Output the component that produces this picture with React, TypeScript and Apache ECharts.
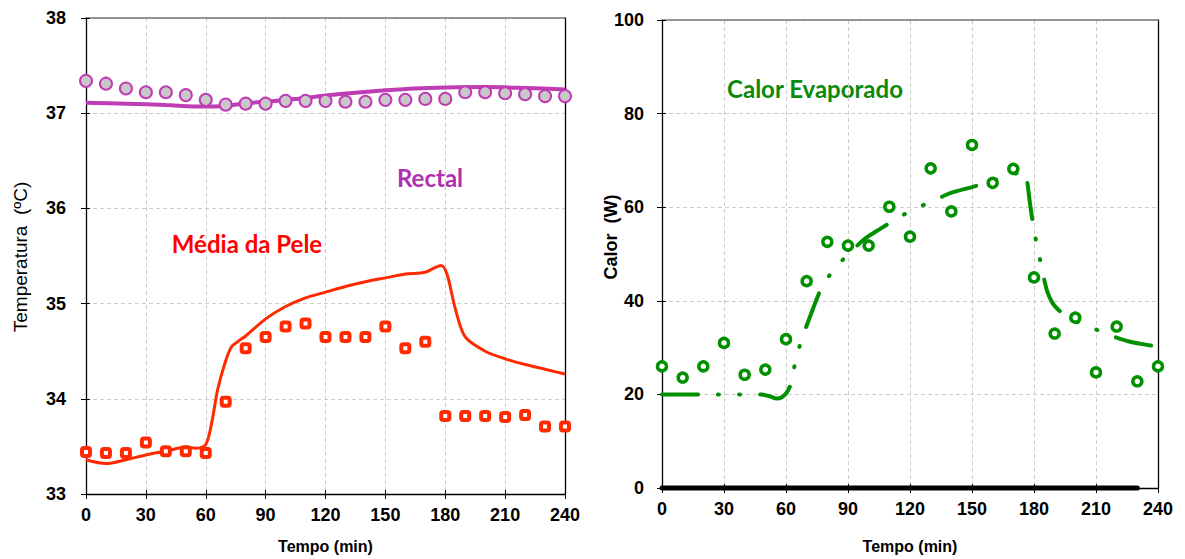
import React, { useEffect, useRef } from "react";
import * as echarts from "echarts";

// ---------- data ----------
const timeObs = [0, 10, 20, 30, 40, 50, 60, 70, 80, 90, 100, 110, 120, 130, 140, 150, 160, 170, 180, 190, 200, 210, 220, 230, 240];

const rectalObs = [37.34, 37.31, 37.26, 37.22, 37.22, 37.19, 37.14, 37.09, 37.10, 37.10, 37.13, 37.13, 37.13, 37.12, 37.12, 37.14, 37.14, 37.15, 37.15, 37.22, 37.22, 37.21, 37.20, 37.18, 37.18];
const skinObs = [33.44, 33.43, 33.43, 33.54, 33.45, 33.45, 33.43, 33.97, 34.53, 34.65, 34.76, 34.79, 34.65, 34.65, 34.65, 34.76, 34.53, 34.60, 33.82, 33.82, 33.82, 33.81, 33.83, 33.71, 33.71];

const rectalModelT = [0, 20, 40, 60, 70, 80, 90, 100, 110, 120, 135, 150, 165, 180, 200, 220, 240];
const rectalModelV = [37.11, 37.10, 37.085, 37.07, 37.075, 37.105, 37.12, 37.14, 37.16, 37.185, 37.215, 37.24, 37.26, 37.27, 37.275, 37.265, 37.25];

const skinModelT = [0, 10, 20, 30, 40, 50, 55, 60, 63, 66, 70, 73, 76, 80, 90, 100, 110, 120, 130, 140, 150, 160, 170, 175, 178, 181, 185, 190, 200, 210, 220, 230, 240];
const skinModelV = [33.36, 33.32, 33.36, 33.41, 33.45, 33.49, 33.48, 33.52, 33.75, 34.1, 34.4, 34.55, 34.6, 34.66, 34.84, 34.97, 35.06, 35.12, 35.18, 35.23, 35.27, 35.31, 35.33, 35.38, 35.4, 35.3, 34.95, 34.65, 34.5, 34.42, 34.36, 34.31, 34.26];

const evapObs = [26, 23.6, 26, 31, 24.2, 25.3, 31.8, 44.2, 52.6, 51.8, 51.8, 60.1, 53.7, 68.3, 59.1, 73.3, 65.2, 68.2, 45.0, 33.0, 36.4, 24.7, 34.5, 22.8, 26];

const evapModelT = [0, 20, 40, 48, 52, 55.5, 58, 60.5, 62.8, 64.5, 67.3, 71.6, 77.3, 83.2, 90, 98, 105, 113, 121.6, 131, 139.5, 150, 157.7, 167, 172, 175, 176.5, 178, 180, 182, 184, 186.4, 189, 192, 196.6, 201, 207.7, 217, 226, 237, 240];
const evapModelV = [20, 20, 20, 20, 19.6, 19.1, 19.4, 20.5, 22.7, 27, 31.3, 36.6, 42.9, 46.7, 49.9, 53.2, 55.2, 57.4, 59.5, 61.3, 63, 64.3, 65.3, 66.7, 67.3, 67.6, 66, 61, 55, 50.9, 46.4, 42, 39.5, 38, 36.5, 35.5, 34.3, 32.6, 31.3, 30.4, 30.1];

const zeroLineT = [0, 230];
const zeroLineV = [0, 0];

const pairs = (t: number[], v: number[]) => t.map((x, i) => [x, v[i]]);

export default function App() {
  const ref = useRef<HTMLDivElement>(null);
  useEffect(() => {
    const chart = echarts.init(ref.current!, null, { renderer: "svg" });
    const tickFont = { fontFamily: "Liberation Sans, Arial, sans-serif", fontWeight: "bold" as const, fontSize: 18, color: "#000" };
    const split = { show: true, lineStyle: { color: "#cccccc", type: [4, 3] as any, width: 1 } };

    const mkX = (grid: number) => [
      {
        type: "value", gridIndex: grid, min: 0, max: 240, interval: 30, position: "bottom",
        axisLine: { show: true, onZero: false, lineStyle: { color: "#000", width: 1.3 } },
        axisTick: { show: true, inside: false, length: 5, lineStyle: { color: "#000" } },
        axisLabel: { ...tickFont, margin: 12 },
        splitLine: split,
        name: "Tempo (min)", nameLocation: "middle", nameGap: grid === 0 ? 44 : 50,
        nameTextStyle: { fontFamily: "Liberation Sans, Arial, sans-serif", fontWeight: "bold", fontSize: 16, color: "#000" },
      },
      {
        type: "value", gridIndex: grid, min: 0, max: 240, interval: 30, position: "bottom",
        axisLine: { show: false, onZero: false },
        axisTick: { show: true, inside: true, length: 4, lineStyle: { color: "#000" } },
        axisLabel: { show: false }, splitLine: { show: false },
      },
      {
        type: "value", gridIndex: grid, min: 0, max: 240, interval: 30, position: "top",
        axisLine: { show: true, onZero: false, lineStyle: { color: "#777", width: 1.5 } },
        axisTick: { show: false }, axisLabel: { show: false }, splitLine: { show: false },
      },
    ];
    const mkY = (grid: number, min: number, max: number, interval: number, margin: number) => [
      {
        type: "value", gridIndex: grid, min, max, interval, position: "left",
        axisLine: { show: true, onZero: false, lineStyle: { color: "#000", width: 1.3 } },
        axisTick: { show: true, inside: false, length: 5, lineStyle: { color: "#000" } },
        axisLabel: { ...tickFont, margin },
        splitLine: split,
      },
      {
        type: "value", gridIndex: grid, min, max, interval, position: "left",
        axisLine: { show: false, onZero: false },
        axisTick: { show: true, inside: true, length: 4, lineStyle: { color: "#000" } },
        axisLabel: { show: false }, splitLine: { show: false },
      },
      {
        type: "value", gridIndex: grid, min, max, interval, position: "right",
        axisLine: { show: true, onZero: false, lineStyle: { color: "#000", width: 1.3 } },
        axisTick: { show: false }, axisLabel: { show: false }, splitLine: { show: false },
      },
    ];

    const option: any = {
      animation: false,
      backgroundColor: "#fff",
      grid: [
        { left: 86, top: 18, width: 479, height: 478 },
        { left: 662, top: 20, width: 496, height: 470 },
      ],
      xAxis: [...mkX(0), ...mkX(1)],
      yAxis: [...mkY(0, 33, 38, 1, 20), ...mkY(1, 0, 100, 20, 18)],
      series: [
        {
          type: "line", xAxisIndex: 0, yAxisIndex: 0, data: pairs(rectalModelT, rectalModelV),
          smooth: 0.3, showSymbol: false, lineStyle: { color: "#c03cb4", width: 4 }, z: 2,
        },
        {
          type: "line", xAxisIndex: 0, yAxisIndex: 0, data: pairs(skinModelT, skinModelV),
          smooth: 0.3, showSymbol: false, lineStyle: { color: "#ff2a00", width: 3 }, z: 2,
        },
        {
          type: "scatter", xAxisIndex: 0, yAxisIndex: 0, data: pairs(timeObs, rectalObs), clip: false,
          symbol: "circle", symbolSize: 12,
          itemStyle: { color: "#c8c8c8", borderColor: "#c03cb4", borderWidth: 2, opacity: 1 }, z: 3,
        },
        {
          type: "scatter", xAxisIndex: 0, yAxisIndex: 0, data: pairs(timeObs, skinObs), clip: false,
          symbol: "roundRect", symbolSize: 8,
          itemStyle: { color: "#fff", borderColor: "#ff2a00", borderWidth: 4, opacity: 1 }, z: 3,
        },
        {
          type: "line", xAxisIndex: 3, yAxisIndex: 3, data: pairs(zeroLineT, zeroLineV), clip: false,
          showSymbol: false, lineStyle: { color: "#000", width: 5, cap: "round" }, z: 4,
        },
        {
          type: "line", xAxisIndex: 3, yAxisIndex: 3, data: pairs(evapModelT, evapModelV),
          smooth: 0.25, showSymbol: false,
          lineStyle: { color: "#009000", width: 4, type: [36, 20, 1, 20, 1, 20], cap: "round" }, z: 2,
        },
        {
          type: "scatter", xAxisIndex: 3, yAxisIndex: 3, data: pairs(timeObs, evapObs), clip: false,
          symbol: "circle", symbolSize: 9,
          itemStyle: { color: "#fff", borderColor: "#009000", borderWidth: 3.5, opacity: 1 }, z: 3,
        },
      ],
      graphic: [
        {
          type: "text", x: 20, y: 257, rotation: Math.PI / 2,
          style: { text: "Temperatura  (ºC)", font: "normal 19px 'Liberation Sans', Arial, sans-serif", fill: "#000", align: "center", verticalAlign: "middle" },
        },
        {
          type: "text", x: 611, y: 237, rotation: Math.PI / 2,
          style: { text: "Calor  (W)", font: "bold 18px 'Liberation Sans', Arial, sans-serif", fill: "#000", align: "center", verticalAlign: "middle" },
        },
        {
          type: "text", x: 430, y: 177,
          style: { text: "Rectal", font: "bold 24px Lato, 'Open Sans', sans-serif", fill: "#b030b0", align: "center", verticalAlign: "middle" },
        },
        {
          type: "text", x: 247, y: 243,
          style: { text: "Média da Pele", font: "bold 24px Lato, 'Open Sans', sans-serif", fill: "#ff0000", align: "center", verticalAlign: "middle" },
        },
        {
          type: "text", x: 815, y: 88,
          style: { text: "Calor Evaporado", font: "bold 24px Lato, 'Open Sans', sans-serif", fill: "#0a8a0a", align: "center", verticalAlign: "middle" },
        },
      ],
    };
    chart.setOption(option);
    return () => chart.dispose();
  }, []);
  return <div ref={ref} style={{ position: "fixed", left: 0, top: 0, width: 1185, height: 559, background: "#fff" }} />;
}
